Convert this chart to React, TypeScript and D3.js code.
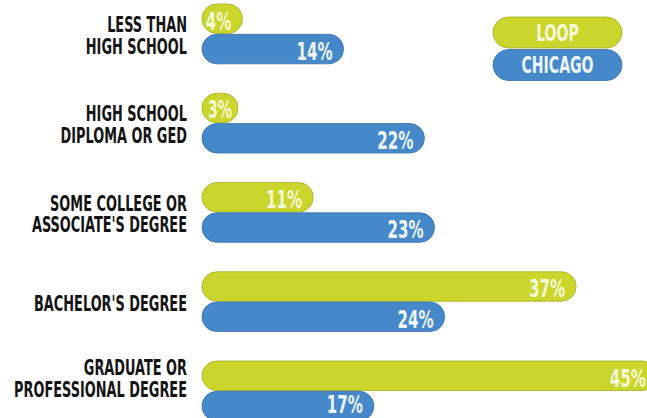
import * as d3 from "d3";

const categories = [
  "LESS THAN\nHIGH SCHOOL",
  "HIGH SCHOOL\nDIPLOMA OR GED",
  "SOME COLLEGE OR\nASSOCIATE'S DEGREE",
  "BACHELOR'S DEGREE",
  "GRADUATE OR\nPROFESSIONAL DEGREE",
];
const loopValues = [4, 3, 11, 37, 45];
const chicagoValues = [14, 22, 23, 24, 17];
const seriesNames = ["LOOP", "CHICAGO"];

const W = 647;
const H = 418;
const GREEN = "#cad62b";
const BLUE = "#4689cb";
const FONT = "'DejaVu Sans Condensed', 'DejaVu Sans', sans-serif";

const barX0 = 202;
const barH = 29.5;
const minW = 36;

export default function App() {
  const x = d3.scaleLinear().domain([0, 45]).range([0, 455]);
  const y = d3.scaleBand<string>().domain(categories).range([4, 450.25]).padding(0);

  const rows = categories.map((c, i) => ({
    cat: c,
    lines: c.split("\n"),
    bars: [
      { v: loopValues[i], color: GREEN, text: "#f5f8d8", top: y(c)! },
      { v: chicagoValues[i], color: BLUE, text: "#eef5fc", top: y(c)! + barH + 0.8 },
    ],
  }));

  const squeezed = (tx: number, ty: number, anchor: string, fill: string, size: number, sx: number, str: string, key?: any) => (
    <text
      key={key}
      transform={`translate(${tx},${ty}) scale(${sx},1)`}
      textAnchor={anchor}
      fill={fill}
      fontSize={size}
      fontWeight="bold"
      fontFamily={FONT}
    >
      {str}
    </text>
  );

  return (
    <svg width={W} height={H} style={{ position: "absolute", left: 0, top: 0, background: "#fff" }}>
      {rows.map((r, i) => {
        const center = Math.min(y(r.cat)! + barH + 0.4, H - 41);
        return (
          <g key={i}>
            {r.lines.map((ln, j) =>
              squeezed(187, center + 9 + (j - (r.lines.length - 1) / 2) * 21.5, "end", "#141414", 20.5, 0.7, ln, j)
            )}
            {r.bars.map((b, k) => {
              const w = Math.max(x(b.v), minW);
              const base = Math.min(b.top + 25.5, H - 5);
              return (
                <g key={"b" + k}>
                  <rect
                    x={barX0}
                    y={b.top}
                    width={w}
                    height={barH}
                    rx={barH / 2}
                    ry={barH / 2}
                    fill={b.color}
                    stroke={d3.color(b.color)!.darker(0.6).formatHex()}
                    strokeWidth={0.8}
                  />
                  {w > minW
                    ? squeezed(barX0 + w - 11, base, "end", b.text, 24, 0.7, `${b.v}%`)
                    : squeezed(barX0 + w / 2, b.top + 24.5, "middle", b.text, 24, 0.66, `${b.v}%`)}
                </g>
              );
            })}
          </g>
        );
      })}
      {seriesNames.map((s, i) => {
        const top = 17 + i * 32.5;
        const col = i === 0 ? GREEN : BLUE;
        return (
          <g key={s}>
            <rect
              x={493}
              y={top}
              width={129}
              height={31}
              rx={15.5}
              fill={col}
              stroke={d3.color(col)!.darker(0.6).formatHex()}
              strokeWidth={0.8}
            />
            {squeezed(557.5, top + 23.5, "middle", i === 0 ? "#f7f9dc" : "#eef5fc", 23, 0.68, s)}
          </g>
        );
      })}
    </svg>
  );
}
